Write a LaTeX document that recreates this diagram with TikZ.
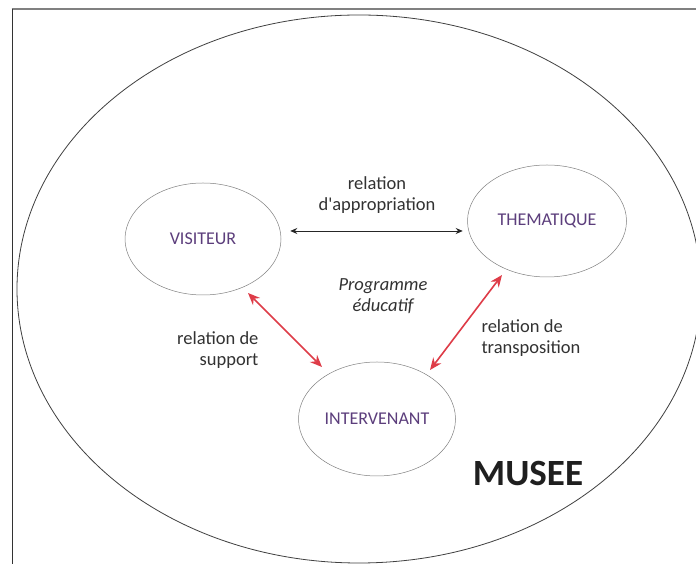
\documentclass[tikz,border=0pt]{standalone}
\usepackage{fontspec}
\setmainfont{Carlito}
\usetikzlibrary{shapes.geometric,arrows.meta}
\definecolor{lbl}{RGB}{92,62,124}
\definecolor{txt}{RGB}{50,50,50}
\definecolor{redarrow}{RGB}{222,60,72}

\begin{document}
\begin{tikzpicture}[x=1pt,y=1pt,
	actor/.style={draw=black!50, line width=0.5pt, ellipse, inner sep=0pt, text=lbl, font=\fontsize{18}{21}\selectfont},
	rel/.style={text=txt, font=\fontsize{18.5}{21}\selectfont},
	redlink/.style={redarrow, line width=1.6pt, {Stealth[length=12pt,width=10pt]}-{Stealth[length=12pt,width=10pt]}}]
	\useasboundingbox (0,0) rectangle (696,564);
	\fill[white] (0,0) rectangle (696,564);
	
	% frame
	\draw[black!50, line width=2pt] (11.5,554.5)--(696,554.5);
	\draw[black!80, line width=0.9pt] (12,0)--(12,555);
	
	% the museum
	\node[draw=black!75, line width=0.8pt, ellipse, minimum width=684pt, minimum height=548pt] (musee) at (359,275) {};
	\node[font=\fontsize{37}{42}\selectfont\bfseries, text=black!88] (museename) at (528,90) {MUSEE};
	
	\node[actor, minimum width=156pt, minimum height=112pt] (visiteur) at (203,325) {VISITEUR};
	\node[actor, minimum width=159pt, minimum height=112pt] (thematique) at (547,343) {THEMATIQUE};
	\node[actor, minimum width=157pt, minimum height=114pt] (intervenant) at (377,145) {INTERVENANT};
	
	\draw[black!85, line width=0.8pt, {Stealth[length=7pt,width=6pt]}-{Stealth[length=7pt,width=6pt]}] ([shift={(9,8)}]visiteur.east)--([shift={(-4.5,-10)}]thematique.west);
	\draw[redlink] ([shift={(45,-54)}]visiteur.center)--([shift={(-55,52)}]intervenant.center);
	\draw[redlink] ([shift={(-45,-54)}]thematique.center)--([shift={(53,49)}]intervenant.center);
	
	\node[rel] (appropriation) at (377,368) {\begin{tabular}{@{}c@{}} relation \\ d\textquotesingle appropriation \end{tabular}};
	\node[rel, font=\fontsize{18.5}{21}\selectfont\itshape] (programme) at (383,267.5) {\begin{tabular}{@{}c@{}} Programme \\ éducatif \end{tabular}};
	\node[rel, anchor=east] (support) at (262,213) {\begin{tabular}{@{}r@{}} relation de \\ support \end{tabular}};
	\node[rel, anchor=west] (transposition) at (478,225) {\begin{tabular}{@{}l@{}} relation de \\ transposition \end{tabular}};
\end{tikzpicture}
\end{document}
